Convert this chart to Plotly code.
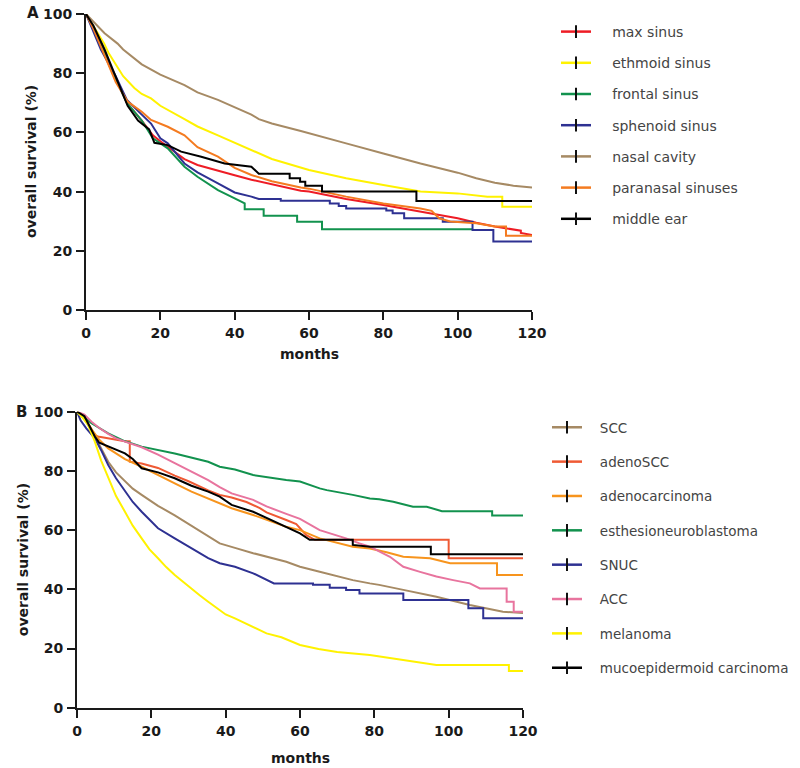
import plotly.graph_objects as go

# ---------------- Panel A data (months, overall survival %) ----------------
max_sinus_m = [0, 2, 5, 8, 11, 15, 18, 20, 26.5, 30, 35.5, 40, 44.5, 50, 57.8, 60, 70, 80, 90, 100, 105, 110, 117, 117, 120]
max_sinus_s = [100, 95, 86, 78, 70, 64, 59, 57, 51, 49, 47, 45.5, 44, 42.5, 40.3, 40, 37.5, 35.5, 33.2, 31, 29.5, 28.2, 26.8, 26, 25.3]

ethmoid_m = [0, 2, 4.9, 6, 8.5, 10, 13, 15, 17.5, 20, 26.5, 30, 35.5, 40, 44.5, 50, 60, 70, 80, 90, 100, 108, 112, 112, 120]
ethmoid_s = [100, 96, 90, 87, 82, 79, 75, 73, 71.5, 69, 64.5, 62, 59, 56.5, 54, 51, 47.3, 44.5, 42.2, 40, 39.4, 38.3, 38.3, 34.9, 34.9]

frontal_m = [0, 2, 5, 8, 11, 15, 18, 22, 26.5, 30, 35.5, 40, 42.7, 42.7, 47.8, 47.8, 56.8, 56.8, 63.5, 63.5, 104]
frontal_s = [100, 95, 87, 78, 70, 64, 58, 54.6, 48.4, 45, 40.5, 37.7, 36, 34, 34, 31.8, 31.8, 29.8, 29.8, 27.3, 27.3]

sphenoid_m = [0, 2, 4, 8, 11, 15, 17.5, 20, 22, 26.5, 30, 35.5, 40, 44.5, 46.5, 52.4, 52.4, 65.6, 65.6, 68, 68, 70, 70, 80.8, 80.8, 82.5, 82.5, 85.6, 85.6, 96, 96, 104, 104, 109.6, 109.6, 120]
sphenoid_s = [100, 94, 88, 79, 71, 66, 63, 58, 56.3, 49.5, 46.5, 42.8, 39.7, 38.3, 37.5, 37.5, 36.9, 36.9, 36, 36, 35.1, 35.1, 34.3, 34.3, 33.6, 33.6, 32.7, 32.7, 31, 31, 29.8, 29.8, 27, 27, 23.1, 23.1]

nasal_cavity_m = [0, 2, 5, 8.5, 10, 15, 20, 26.5, 30, 35.5, 40, 44.5, 46.5, 50, 57.8, 60, 70, 80, 90, 100, 105, 110, 115, 120]
nasal_cavity_s = [100, 97.5, 93.5, 90, 88, 83, 79.5, 76, 73.5, 71, 68.5, 66, 64.5, 63, 60.5, 59.7, 56.3, 52.9, 49.5, 46.4, 44.5, 43, 42, 41.4]

paranasal_m = [0, 2, 5, 8, 11.2, 15, 17.5, 22, 26.5, 30, 35.5, 40, 44.5, 50, 57.8, 60, 70, 80, 90, 93, 95, 98, 105, 110, 113, 113, 120]
paranasal_s = [100, 95, 86, 77, 70.4, 67, 64.2, 61.9, 59, 55, 51.8, 48, 45.6, 43.5, 41.4, 41, 38.3, 36, 34.3, 33.5, 31, 29.9, 29.3, 28.2, 28.2, 25.1, 25.1]

middle_ear_m = [0, 2, 5, 8, 11.2, 14, 17, 18.4, 22, 25.6, 31, 37.3, 44.5, 46.5, 54.8, 54.8, 57.6, 57.6, 59, 59, 63.5, 63.5, 88.9, 88.9, 120]
middle_ear_s = [100, 96, 88, 79, 69, 64, 61, 56.5, 55.7, 53.5, 51.8, 49.5, 48.4, 46, 46, 44.5, 44.5, 43.3, 43.3, 42, 42, 40, 40, 36.8, 36.8]

# ---------------- Panel B data ----------------
scc_m = [0, 2, 3.9, 6, 8.4, 10.5, 12.9, 15, 17.4, 21.8, 26.3, 30.8, 35.3, 38.4, 42.5, 47.4, 56.3, 60, 65.3, 74.2, 78.8, 81.3, 87.8, 96.7, 105.7, 114.6, 120]
scc_s = [100, 97.5, 93.8, 89, 83.1, 79.5, 76.4, 74, 71.9, 68.2, 65, 61.5, 58, 55.5, 54, 52.2, 49.3, 47.6, 45.9, 43.1, 42, 41.5, 39.8, 37.5, 34.7, 32.4, 32]

adenoscc_m = [0, 1.5, 3, 4.8, 6, 12.9, 14.2, 14.2, 17.4, 21.8, 26.3, 30, 35.3, 38.4, 41.6, 45.6, 49.2, 51, 56.3, 59, 61.7, 64, 100, 100, 120]
adenoscc_s = [100, 99, 96, 92, 91.5, 90, 90, 83.1, 82.5, 81, 78.4, 76.5, 73.4, 71.9, 71, 69.5, 67.4, 66, 63.4, 62, 58.3, 56.7, 56.7, 50.5, 50.5]

adenocarcinoma_m = [0, 2, 4, 6, 8.4, 12.9, 17.4, 21.8, 26.3, 30.8, 35.3, 38.4, 41.6, 47.4, 56.3, 60, 65.3, 74.2, 78.8, 83.3, 87.8, 95, 100.4, 113, 113, 120]
adenocarcinoma_s = [100, 98, 94, 90.5, 87.6, 84, 81.4, 78.5, 75.8, 73, 70.7, 69, 67.4, 65.1, 61.1, 60, 57.2, 54.4, 53.8, 52.5, 51, 50.5, 48.8, 48.8, 44.8, 44.8]

esthesio_m = [0, 2, 4, 8.4, 12.9, 17.4, 21.8, 26.3, 35.3, 38.4, 42.5, 47.4, 56.3, 60, 65.3, 67.2, 74.2, 78.8, 81.3, 85.1, 90.4, 94.1, 98.2, 111.7, 111.7, 120]
esthesio_s = [100, 98, 96, 92.7, 90, 88.2, 87, 85.9, 83.1, 81.4, 80.5, 78.6, 76.9, 76.4, 74.1, 73.5, 71.9, 70.7, 70.4, 69.6, 67.9, 67.9, 66.4, 66.4, 64.9, 64.9]

snuc_m = [0, 1, 2.5, 4.8, 6.5, 8.4, 10.5, 12.9, 15, 17.4, 21.8, 26.3, 30.8, 35.3, 38.4, 42.5, 47.4, 51.9, 53, 63.5, 63.5, 68, 68, 72.4, 72.4, 76, 76, 87.8, 87.8, 105.3, 105.3, 109.3, 109.3, 120]
snuc_s = [100, 97, 94.4, 91, 87, 82, 77.5, 73, 69.5, 66.2, 60.6, 57.2, 53.9, 50.5, 48.8, 47.6, 45.4, 42.5, 42, 42, 41.5, 41.5, 40.5, 40.5, 39.8, 39.8, 38.6, 38.6, 36.4, 36.4, 33.6, 33.6, 30.2, 30.2]

acc_m = [0, 2, 3.9, 6, 8.4, 10.5, 12.9, 17.4, 21.8, 26.3, 30.8, 35.3, 38.4, 41.6, 47.4, 51, 56.3, 60, 65.3, 72.4, 76, 78.8, 84.2, 87.8, 92.3, 96.7, 101.2, 105.7, 108.4, 115.6, 115.6, 117.5, 117.5, 120]
acc_s = [100, 99, 96.6, 94.5, 92.5, 91, 89.9, 88, 85.5, 82.6, 79.8, 76.9, 74.5, 72.4, 70.2, 68, 65.5, 63.8, 60, 57.2, 55.5, 54.4, 51, 47.6, 45.9, 44.3, 43.1, 42, 40.3, 40.3, 35.8, 35.8, 32.4, 32.4]

melanoma_m = [0, 1.5, 3, 4.8, 6.5, 8.4, 10.5, 12.9, 15, 17.4, 19.5, 21.8, 24, 26.3, 28.5, 30.8, 33, 35.3, 40, 42.5, 46, 51, 55, 60, 65, 70, 78.8, 87.8, 96.7, 116.2, 116.2, 120]
melanoma_s = [100, 98, 95.5, 89.9, 83.5, 77.5, 71.5, 66.2, 61.5, 57.2, 53.5, 50.5, 47.5, 44.8, 42.5, 40.3, 38, 35.8, 31.5, 30.2, 28, 25.1, 23.8, 21.2, 19.8, 18.8, 17.8, 16.1, 14.4, 14.4, 12.4, 12.4]

mucoepi_m = [0, 2, 3, 4.8, 6, 8.4, 12.9, 15, 17.4, 21.8, 26.3, 30.8, 35.3, 38.4, 41.6, 47.4, 56.3, 60, 62.6, 74.2, 74.2, 78.8, 95.2, 95.2, 120]
mucoepi_s = [100, 98.5, 96, 91.6, 89.5, 88.2, 85.9, 84, 80.9, 79.5, 77.5, 75, 73, 71.3, 68.5, 66.2, 61.1, 58.9, 56.7, 56.7, 55, 54.4, 54.4, 51.8, 51.8]

names_A = ["max sinus", "ethmoid sinus", "frontal sinus", "sphenoid sinus", "nasal cavity", "paranasal sinuses", "middle ear"]
names_B = ["SCC", "adenoSCC", "adenocarcinoma", "esthesioneuroblastoma", "SNUC", "ACC", "melanoma", "mucoepidermoid carcinoma"]

x_ticks = [0, 20, 40, 60, 80, 100, 120]
y_ticks = [0, 20, 40, 60, 80, 100]

colors_A = ["#ee1c25", "#fff200", "#12924e", "#2e3192", "#a68a64", "#f47b20", "#000000"]
colors_B = ["#a68a64", "#ef5a34", "#f7941d", "#12924e", "#2e3192", "#e8749e", "#fff200", "#000000"]

data_A = [(max_sinus_m, max_sinus_s), (ethmoid_m, ethmoid_s), (frontal_m, frontal_s),
          (sphenoid_m, sphenoid_s), (nasal_cavity_m, nasal_cavity_s),
          (paranasal_m, paranasal_s), (middle_ear_m, middle_ear_s)]
data_B = [(scc_m, scc_s), (adenoscc_m, adenoscc_s), (adenocarcinoma_m, adenocarcinoma_s),
          (esthesio_m, esthesio_s), (snuc_m, snuc_s), (acc_m, acc_s),
          (melanoma_m, melanoma_s), (mucoepi_m, mucoepi_s)]

# figure fills the whole 800x768 window (body margin removed in post_script)
W, H = 800, 768


def PX(px):
    return px / W


def PY(py):
    return 1 - py / H


fig = go.Figure()
GAP_A = "\u00a0\u00a0\u00a0\u2009"
GAP_B = "\u00a0\u00a0\u00a0"


def add_panel(names, colors, data, xa, ya, legend, tag, gap):
    for name, col, (m, s) in zip(names, colors, data):
        grp = tag + name
        fig.add_trace(go.Scatter(x=m, y=s, mode="lines", name=name, legendgroup=grp,
                                 showlegend=False, xaxis=xa, yaxis=ya,
                                 line=dict(color=col, width=2)))
    for name, col in zip(names, colors):
        grp = tag + name
        fig.add_trace(go.Scatter(x=[None], y=[None], mode="lines+markers", name=gap + name,
                                 legendgroup=grp, legend=legend, xaxis=xa, yaxis=ya,
                                 line=dict(color=col, width=2.5),
                                 marker=dict(symbol="line-ns", size=9,
                                             line=dict(color="#111111", width=2))))


add_panel(names_A, colors_A, data_A, "x", "y", "legend", "A", GAP_A)
add_panel(names_B, colors_B, data_B, "x2", "y2", "legend2", "B", GAP_B)

tickfont = dict(family="DejaVu Sans", size=14, color="#1a1a1a", weight="bold")
axis_common = dict(showline=True, linewidth=2, linecolor="#1a1a1a", ticks="outside",
                   ticklen=8, tickwidth=2, tickcolor="#1a1a1a", showgrid=False,
                   zeroline=False, tickfont=tickfont, ticklabelstandoff=1,
                   ticklabeloverflow="allow")

fig.update_layout(
    width=W, height=H, template="none",
    paper_bgcolor="white", plot_bgcolor="white",
    margin=dict(l=0, r=0, t=0, b=0),
    xaxis=dict(domain=[PX(86), PX(532)], range=[0, 120], tickvals=x_ticks, anchor="y", **axis_common),
    yaxis=dict(domain=[PY(310), PY(14)], range=[0, 100], tickvals=y_ticks, anchor="x", **axis_common),
    xaxis2=dict(domain=[PX(77), PX(523)], range=[0, 120], tickvals=x_ticks, anchor="y2", **axis_common),
    yaxis2=dict(domain=[PY(707.7), PY(411.7)], range=[0, 100], tickvals=y_ticks, anchor="x2", **axis_common),
    legend=dict(x=PX(556), y=PY(16), xanchor="left", yanchor="top",
                font=dict(family="DejaVu Sans", size=14, color="#444444"),
                tracegroupgap=10, bgcolor="rgba(0,0,0,0)"),
    legend2=dict(x=PX(547), y=PY(412), xanchor="left", yanchor="top",
                 font=dict(family="DejaVu Sans", size=13.5, color="#444444"),
                 tracegroupgap=13.8, bgcolor="rgba(0,0,0,0)"),
)

lab_font = dict(family="DejaVu Sans", size=14, color="#1a1a1a", weight="bold")
ann = [
    dict(text="overall survival (%)", x=PX(31), y=PY(162), textangle=-90),
    dict(text="overall survival (%)", x=PX(22.5), y=PY(559.7), textangle=-90),
    dict(text="months", x=PX(309), y=PY(354)),
    dict(text="months", x=PX(300), y=PY(758)),
]
for a in ann:
    fig.add_annotation(xref="paper", yref="paper", showarrow=False, xanchor="center",
                       yanchor="middle", font=lab_font, **a)
fig.add_annotation(text="A", x=PX(32.5), y=PY(13), xref="paper", yref="paper",
                   showarrow=False, xanchor="center", yanchor="middle",
                   font=dict(family="DejaVu Sans", size=15, color="#1a1a1a", weight="bold"))
fig.add_annotation(text="B", x=PX(21), y=PY(412), xref="paper", yref="paper",
                   showarrow=False, xanchor="center", yanchor="middle",
                   font=dict(family="DejaVu Sans", size=15, color="#1a1a1a", weight="bold"))

fig.write_html("out.html", config={"displayModeBar": False},
               post_script="document.body.style.margin='0px';document.body.style.overflow='hidden';")
